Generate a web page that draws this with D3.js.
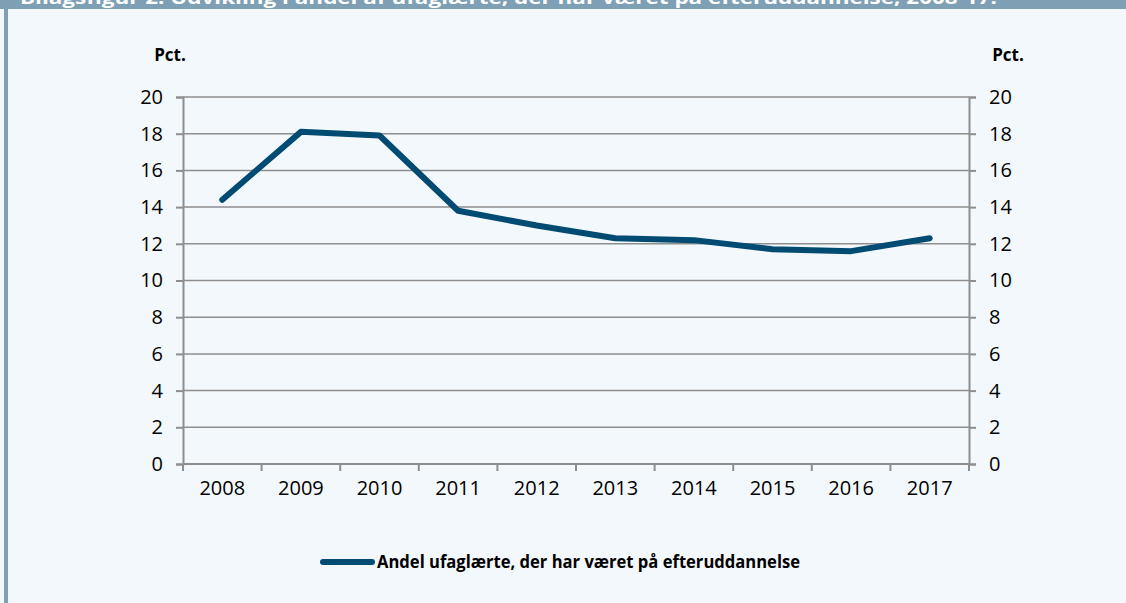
<!DOCTYPE html>
<html><head><meta charset="utf-8">
<script src="https://cdn.jsdelivr.net/npm/d3@7"></script>
<style>
html,body{margin:0;padding:0;background:#f3f8fc;}
svg{display:block;}
</style></head>
<body>
<svg id="chart" width="1126" height="603"></svg>
<script>
const years = ["2008","2009","2010","2011","2012","2013","2014","2015","2016","2017"];
const values = [14.4, 18.1, 17.9, 13.8, 13.0, 12.3, 12.2, 11.7, 11.6, 12.3];
const yTicks = [0,2,4,6,8,10,12,14,16,18,20];
const seriesName = "Andel ufaglærte, der har været på efteruddannelse";
const title = "Bilagsfigur 2. Udvikling i andel af ufaglærte, der har været på efteruddannelse, 2008-17.";

(function(){
const svg = d3.select("#chart");
const W = 1126, H = 603;
const font = "'Open Sans', sans-serif";
const lineColor = "#004b72";
const gridColor = "#8e8e8e";

svg.append("rect").attr("width", W).attr("height", H).attr("fill", "#f3f8fc");
// frame
svg.append("rect").attr("x", 0).attr("y", 0).attr("width", W).attr("height", 9).attr("fill", "#7e9fb4");
svg.append("rect").attr("x", 4).attr("y", 0).attr("width", 4).attr("height", H).attr("fill", "#7e9fb4");
svg.append("text").attr("x", 20).attr("y", 4).attr("fill", "#ffffff")
  .attr("font-family", font).attr("font-weight", "bold").attr("font-size", 18)
  .attr("textLength", 977).attr("lengthAdjust", "spacingAndGlyphs").text(title);

const mLeft = 183, mRight = 969, mTop = 97, mBottom = 464;
const x = d3.scaleBand().domain(years).range([mLeft, mRight]);
const y = d3.scaleLinear().domain([0, 20]).range([mBottom, mTop]);

// gridlines
svg.append("g").selectAll("line").data(yTicks.filter(d => d > 0)).join("line")
  .attr("x1", mLeft).attr("x2", mRight).attr("y1", d => y(d)).attr("y2", d => y(d))
  .attr("stroke", gridColor).attr("stroke-width", 1.5);

const gL = svg.append("g").attr("transform", `translate(${mLeft},0)`)
  .call(d3.axisLeft(y).tickValues(yTicks).tickSize(7).tickPadding(13));
const gR = svg.append("g").attr("transform", `translate(${mRight},0)`)
  .call(d3.axisRight(y).tickValues(yTicks).tickSize(7).tickPadding(13));
const gB = svg.append("g").attr("transform", `translate(0,${mBottom})`)
  .call(d3.axisBottom(x).tickSize(0).tickPadding(17));
svg.append("g").selectAll("line").data(d3.range(years.length + 1)).join("line")
  .attr("x1", i => mLeft + i * x.step()).attr("x2", i => mLeft + i * x.step())
  .attr("y1", mBottom).attr("y2", mBottom + 7)
  .attr("stroke", gridColor).attr("stroke-width", 2);

[gL, gR, gB].forEach(g => {
  g.selectAll(".domain").attr("stroke", gridColor).attr("stroke-width", 2);
  g.selectAll(".tick line").attr("stroke", gridColor).attr("stroke-width", 2);
  g.selectAll("text").attr("font-family", font).attr("font-size", 20).attr("fill", "#000");
});
gB.select(".domain").attr("d", `M${mLeft},0H${mRight}`);

svg.append("text").attr("x", 170).attr("y", 61).attr("text-anchor", "middle")
  .attr("font-family", font).attr("font-weight", "bold").attr("font-size", 17).text("Pct.");
svg.append("text").attr("x", 1008).attr("y", 61).attr("text-anchor", "middle")
  .attr("font-family", font).attr("font-weight", "bold").attr("font-size", 17).text("Pct.");

const line = d3.line().x((d, i) => x(years[i]) + x.bandwidth() / 2).y(d => y(d));
svg.append("path").datum(values).attr("d", line).attr("fill", "none")
  .attr("stroke", lineColor).attr("stroke-width", 6).attr("stroke-linejoin", "round").attr("stroke-linecap", "round");

svg.append("line").attr("x1", 323).attr("x2", 372).attr("y1", 562).attr("y2", 562)
  .attr("stroke", lineColor).attr("stroke-width", 6).attr("stroke-linecap", "round");
svg.append("text").attr("x", 377).attr("y", 568).attr("font-family", font).attr("font-weight", "bold")
  .attr("font-size", 17).attr("textLength", 423).attr("lengthAdjust", "spacingAndGlyphs").text(seriesName);
})();
</script>
</body></html>
